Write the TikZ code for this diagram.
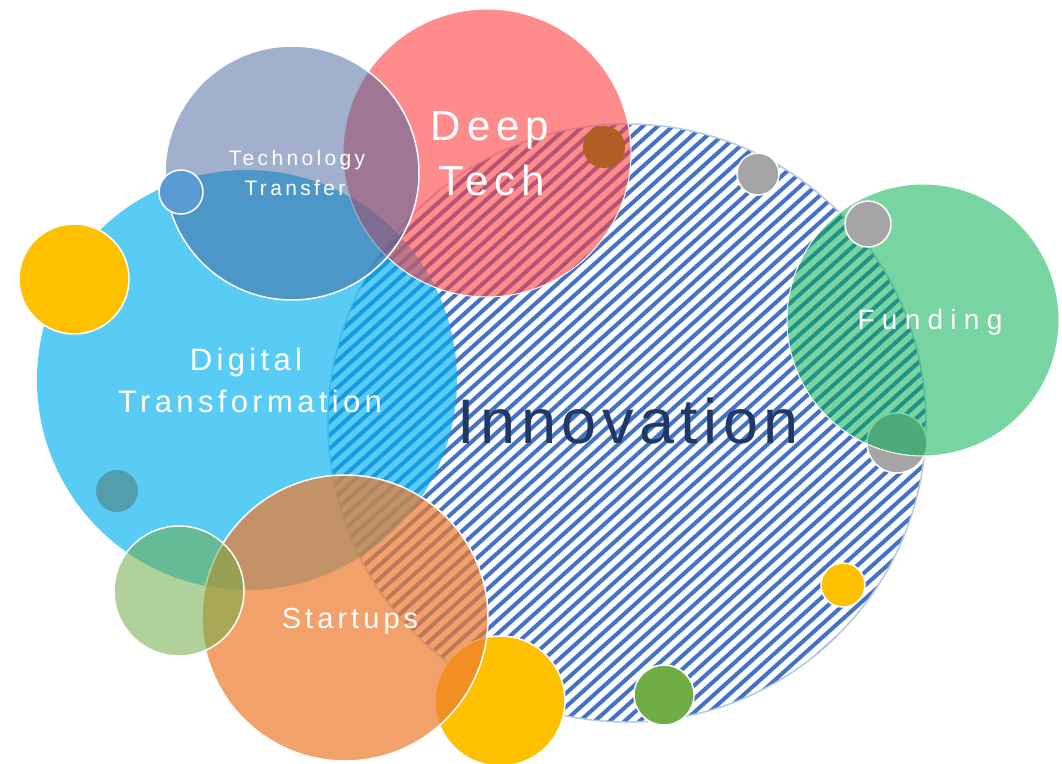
\documentclass[tikz,border=0pt]{standalone}
\usepackage{fontspec}
\setmainfont{Liberation Sans}
\newfontfamily\lsA{Liberation Sans}[LetterSpace=14]
\newfontfamily\lsB{Liberation Sans}[LetterSpace=16]
\newfontfamily\lsC{Liberation Sans}[LetterSpace=9]
\newfontfamily\lsD{Liberation Sans}[LetterSpace=26]
\definecolor{dtblue}{HTML}{00B0F0}
\definecolor{deepred}{HTML}{FF3F3F}
\definecolor{ttblue}{HTML}{41619B}
\definecolor{suorange}{HTML}{ED7D31}
\definecolor{ltgreen}{HTML}{70AD47}
\definecolor{fugreen}{HTML}{00B050}
\definecolor{dotgray}{HTML}{A5A5A5}
\definecolor{dotyellow}{HTML}{FFC000}
\definecolor{dotblue}{HTML}{5B9BD5}
\definecolor{dotbrown}{HTML}{B05E24}
\definecolor{hatchblue}{HTML}{4472C4}
\definecolor{innoedge}{HTML}{B4C7E7}
\definecolor{navy}{HTML}{1F3864}
\tikzset{
  bubble/.style={draw=white, line width=1.5pt},
  dot/.style={draw=white, line width=1.5pt},
  lbl/.style={anchor=base, inner sep=0pt, text=white, align=center},
  hatchline/.style={draw=hatchblue, line width=4pt}
}
\begin{document}
\begin{tikzpicture}[x=1pt,y=-1pt]
\useasboundingbox (0,0) rectangle (1062,763);
% Innovation hatched circle
\coordinate (inno) at (627,423);
\fill[white] (inno) circle[radius=299];
\begin{scope}
  \clip (inno) circle[radius=299];
  \begin{scope}[rotate around={42:(inno)}]
    \foreach \k in {-32,...,32} {
      \draw[hatchline] (627-330,423+\k*10) -- (627+330,423+\k*10);
    }
  \end{scope}
\end{scope}
\draw[innoedge, line width=1.5pt] (inno) circle[radius=299];
% orange dot under Digital Transformation
\fill[suorange] (117,491) circle[radius=21];
% Digital Transformation
\fill[dtblue, fill opacity=0.65] (247,380) circle[radius=210];
% Deep Tech
\path[fill=deepred, fill opacity=0.6, draw=white, line width=1pt] (487,153) circle[radius=144];
% Technology Transfer
\path[bubble, fill=ttblue, fill opacity=0.5] (292,173) circle[radius=127];
% brown dot
\fill[dotbrown] (604,147) circle[radius=21];
% yellow under Startups
\path[dot, fill=dotyellow] (500,701) circle[radius=65];
% Startups
\path[bubble, fill=suorange, fill opacity=0.72] (345,618) circle[radius=143];
% light green
\path[bubble, fill=ltgreen, fill opacity=0.55] (179,591) circle[radius=65];
% gray under Funding
\path[dot, fill=dotgray] (897,443) circle[radius=30];
% Funding
\path[fill=fugreen, fill opacity=0.53, draw=white, line width=1pt] (923,320) circle[radius=136];
% small dots
\path[dot, fill=dotgray] (868,224) circle[radius=23];
\path[dot, fill=dotgray] (758,174) circle[radius=21];
\path[dot, fill=dotyellow] (74,279) circle[radius=55];
\path[dot, fill=dotblue] (181,192) circle[radius=22];
\path[dot, fill=dotyellow] (843,585) circle[radius=22];
\path[dot, fill=ltgreen] (664,695) circle[radius=30];
% labels
\node[lbl, font=\lsA\fontsize{42}{50}\selectfont] (deep) at (490,140) {Deep};
\node[lbl, font=\lsA\fontsize{42}{50}\selectfont] (tech) at (492,195) {Tech};
\node[lbl, font=\lsB\fontsize{21}{25}\selectfont] (techno) at (297,165) {Technology};
\node[lbl, font=\lsB\fontsize{21}{25}\selectfont] (transfer) at (295,195) {Transfer};
\node[lbl, font=\lsA\fontsize{31}{37}\selectfont] (digital) at (246,370) {Digital};
\node[lbl, font=\lsA\fontsize{31}{37}\selectfont] (transf) at (250,412) {Transformation};
\node[lbl, text=navy, font=\lsC\fontsize{63}{75}\selectfont] (innotext) at (628,443) {Innovation};
\node[lbl, font=\lsD\fontsize{28}{34}\selectfont] (funding) at (930,329) {Funding};
\node[lbl, font=\lsA\fontsize{29}{35}\selectfont] (startups) at (350,628) {Startups};
\end{tikzpicture}
\end{document}
